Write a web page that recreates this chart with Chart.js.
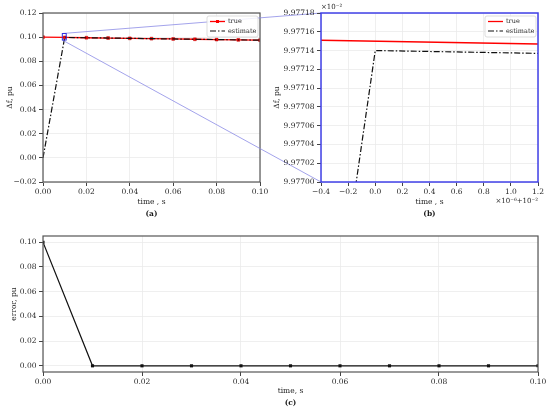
<!DOCTYPE html>
<html>
<head>
<meta charset="utf-8">
<script src="https://cdn.jsdelivr.net/npm/chart.js@4.4.1/dist/chart.umd.min.js"></script>
<style>
	html, body { margin: 0; padding: 0; background: #fff; }
	#figure { position: relative; width: 550px; height: 413px; }
	#figure canvas { position: absolute; left: 0; top: 0; }
</style>
</head>
<body>
<div id="figure">
	<canvas id="canvasA" width="550" height="413"></canvas>
	<canvas id="canvasB" width="550" height="413"></canvas>
	<canvas id="canvasC" width="550" height="413"></canvas>
</div>
<script>
// (a) frequency deviation, true vs estimate
var timeA = [0, 0.01, 0.02, 0.03, 0.04, 0.05, 0.06, 0.07, 0.08, 0.09, 0.1];
var trueA = [0.10000, 0.0997715, 0.09951, 0.09926, 0.09900, 0.09875, 0.09850, 0.09824, 0.09799, 0.09774, 0.09750];
var estimateA = [0.0, 0.0997714, 0.0995099, 0.0992599, 0.0989999, 0.0987499, 0.0984999, 0.0982399, 0.0979899, 0.0977399, 0.0974999];

// (b) zoom around t = 0.01 s (x in 1e-6 s offset, y in 1e-2 pu)
var timeTrueB = [-0.4, 1.2];
var trueB = [9.977151, 9.977147];
var timeEstB = [-0.4, 0.0, 1.2];
var estimateB = [9.976741, 9.977140, 9.977137];

// (c) error
var errorC = [0.1, 0.0000001, 0.0000001, 0.0000001, 0.0000001, 0.0000001, 0.0000001, 0.0000001, 0.0000001, 0.0000001, 0.0000001];

// tick labels
var ticksAX = [0, 0.02, 0.04, 0.06, 0.08, 0.1];
var ticksAY = [-0.02, 0, 0.02, 0.04, 0.06, 0.08, 0.1, 0.12];
var ticksBX = [-0.4, -0.2, 0, 0.2, 0.4, 0.6, 0.8, 1.0, 1.2];
var ticksBY = [9.977, 9.97702, 9.97704, 9.97706, 9.97708, 9.9771, 9.97712, 9.97714, 9.97716, 9.97718];
var ticksCX = [0, 0.02, 0.04, 0.06, 0.08, 0.1];
var ticksCY = [0, 0.02, 0.04, 0.06, 0.08, 0.1];

// region of (a) shown in (b), data units of (a)
var insetX = [0.0089, 0.0107];
var insetY = [0.0976, 0.1030];

var SERIF = '"DejaVu Serif", "Liberation Serif", serif';
var TEXT = '#262626';
Chart.defaults.font.family = SERIF;
Chart.defaults.font.size = 7.5;
Chart.defaults.color = TEXT;

function pairs(xs, ys) {
	return xs.map(function (x, i) { return {x: x, y: ys[i]}; });
}

function fmt(v, digits) {
	return v.toFixed(digits).replace('-', '\u2212');
}

function axis(o) {
	return {
		type: 'linear',
		min: o.min,
		max: o.max,
		afterBuildTicks: function (scale) {
			scale.ticks = o.ticks.map(function (v) { return {value: v}; });
		},
		afterFit: function (scale) {
			if (scale.isHorizontal()) {
				scale.height = o.size;
			} else {
				scale.width = o.size;
			}
			scale.paddingLeft = 0;
			scale.paddingRight = 0;
			scale.paddingTop = 0;
			scale.paddingBottom = 0;
		},
		border: {display: false},
		grid: {color: '#ebebeb', lineWidth: 0.8, tickColor: '#444', tickLength: 4, tickWidth: 1},
		ticks: {
			color: TEXT,
			padding: o.tickPad,
			maxRotation: 0,
			autoSkip: false,
			callback: function (v) { return fmt(v, o.digits); }
		},
		title: {display: true, text: o.title, color: TEXT, padding: o.titlePad}
	};
}

function drawLegend(chart) {
	var a = chart.chartArea, ctx = chart.ctx;
	var w = 51, h = 21, left = a.right - 2 - w, top = a.top + 3;
	ctx.save();
	ctx.fillStyle = 'rgba(255,255,255,0.85)';
	ctx.strokeStyle = '#d4d4d4';
	ctx.lineWidth = 0.8;
	ctx.beginPath();
	ctx.roundRect(left, top, w, h, 2);
	ctx.fill();
	ctx.stroke();
	chart.data.datasets.forEach(function (ds, i) {
		var y = top + 5.5 + i * 9.5;
		ctx.strokeStyle = ds.borderColor;
		ctx.lineWidth = ds.borderWidth;
		ctx.setLineDash(ds.borderDash || []);
		ctx.beginPath();
		ctx.moveTo(left + 3, y);
		ctx.lineTo(left + 18, y);
		ctx.stroke();
		ctx.setLineDash([]);
		if (ds.legendMarker) {
			ctx.fillStyle = ds.pointBackgroundColor;
			ctx.fillRect(left + 9, y - 1.5, 3, 3);
		}
		ctx.fillStyle = TEXT;
		ctx.font = '6.5px ' + SERIF;
		ctx.textBaseline = 'middle';
		ctx.textAlign = 'left';
		ctx.fillText(ds.label, left + 21, y);
	});
	ctx.restore();
}

function decor(cfg) {
	return {
		id: 'decor',
		afterDatasetsDraw: function (chart) {
			var a = chart.chartArea, ctx = chart.ctx;
			ctx.save();
			ctx.strokeStyle = cfg.frame;
			ctx.lineWidth = cfg.frameWidth;
			ctx.strokeRect(a.left, a.top, a.right - a.left, a.bottom - a.top);
			ctx.restore();
		},
		afterDraw: function (chart) {
			var a = chart.chartArea, ctx = chart.ctx;
			if (cfg.extra) {
				cfg.extra(chart);
			}
			if (cfg.legend) {
				drawLegend(chart);
			}
			ctx.save();
			ctx.fillStyle = '#1a1a1a';
			ctx.font = 'bold 7.5px ' + SERIF;
			ctx.textAlign = 'center';
			ctx.textBaseline = 'middle';
			ctx.fillText(cfg.caption, (a.left + a.right) / 2, a.bottom + cfg.captionGap);
			ctx.restore();
		}
	};
}

function baseOptions(padding, xAxis, yAxis) {
	return {
		responsive: false,
		animation: false,
		layout: {padding: padding},
		plugins: {legend: {display: false}, tooltip: {enabled: false}},
		scales: {x: xAxis, y: yAxis}
	};
}

// (b) first, so (a) can draw the connectors to it
var chartB = new Chart(document.getElementById('canvasB'), {
	type: 'line',
	data: {
		datasets: [
			{
				label: 'true',
				data: pairs(timeTrueB, trueB),
				borderColor: 'red',
				borderWidth: 1.3,
				pointRadius: 0,
				clip: 0,
				order: 1
			},
			{
				label: 'estimate',
				data: pairs(timeEstB, estimateB),
				borderColor: '#111',
				borderWidth: 1.2,
				borderDash: [6, 2, 1.5, 2],
				pointRadius: 0,
				clip: 0,
				order: 0
			}
		]
	},
	options: baseOptions(
		{left: 270, top: 13, right: 12, bottom: 206},
		axis({min: -0.4, max: 1.2, ticks: ticksBX, digits: 1, size: 25, tickPad: 1.5, title: 'time , s', titlePad: {top: 0, bottom: 0.5}}),
		axis({min: 9.977, max: 9.97718, ticks: ticksBY, digits: 5, size: 51, tickPad: 2.5, title: '\u0394f, pu', titlePad: {top: 2.5, bottom: 0}})
	),
	plugins: [decor({
		frame: '#4040e8',
		frameWidth: 1.5,
		legend: true,
		caption: '(b)',
		captionGap: 32.5,
		extra: function (chart) {
			var a = chart.chartArea, ctx = chart.ctx;
			ctx.save();
			ctx.fillStyle = TEXT;
			ctx.font = '7px ' + SERIF;
			ctx.textBaseline = 'middle';
			ctx.textAlign = 'left';
			ctx.fillText('\u00d710\u207b\u00b2', a.left, a.top - 6);
			ctx.textAlign = 'right';
			ctx.fillText('\u00d710\u207b\u2076+10\u207b\u00b2', a.right, a.bottom + 19);
			ctx.restore();
		}
	})]
});

var chartA = new Chart(document.getElementById('canvasA'), {
	type: 'line',
	data: {
		datasets: [
			{
				label: 'true',
				data: pairs(timeA, trueA),
				borderColor: 'red',
				borderWidth: 1.3,
				pointStyle: 'rect',
				pointRadius: 2,
				pointBackgroundColor: 'red',
				pointBorderColor: '#b00',
				pointBorderWidth: 0.5,
				legendMarker: true,
				order: 1
			},
			{
				label: 'estimate',
				data: pairs(timeA, estimateA),
				borderColor: '#111',
				borderWidth: 1.2,
				borderDash: [6, 2, 1.5, 2],
				pointRadius: 0,
				order: 0
			}
		]
	},
	options: baseOptions(
		{left: 0, top: 13, right: 290, bottom: 206},
		axis({min: 0, max: 0.1, ticks: ticksAX, digits: 2, size: 25, tickPad: 1.5, title: 'time , s', titlePad: {top: 0, bottom: 0.5}}),
		axis({min: -0.02, max: 0.12, ticks: ticksAY, digits: 2, size: 43, tickPad: 2.5, title: '\u0394f, pu', titlePad: {top: 5.5, bottom: 0}})
	),
	plugins: [decor({
		frame: '#555',
		frameWidth: 1.2,
		legend: true,
		caption: '(a)',
		captionGap: 32.5,
		extra: function (chart) {
			var ctx = chart.ctx, sx = chart.scales.x, sy = chart.scales.y, b = chartB.chartArea;
			var x0 = sx.getPixelForValue(insetX[0]), x1 = sx.getPixelForValue(insetX[1]);
			var y0 = sy.getPixelForValue(insetY[1]), y1 = sy.getPixelForValue(insetY[0]);
			ctx.save();
			ctx.strokeStyle = '#8c8ce6';
			ctx.lineWidth = 0.8;
			ctx.beginPath();
			ctx.moveTo(x0, y0);
			ctx.lineTo(b.left, b.top);
			ctx.moveTo(x0, y1);
			ctx.lineTo(b.left, b.bottom);
			ctx.stroke();
			ctx.strokeStyle = '#3030e0';
			ctx.lineWidth = 1;
			ctx.strokeRect(x0, y0, x1 - x0, y1 - y0);
			ctx.restore();
		}
	})]
});

var chartC = new Chart(document.getElementById('canvasC'), {
	type: 'line',
	data: {
		datasets: [
			{
				label: 'error',
				data: pairs(timeA, errorC),
				borderColor: '#111',
				borderWidth: 1.2,
				pointStyle: 'rect',
				pointRadius: 2.2,
				pointBackgroundColor: '#111',
				pointBorderColor: '#111',
				pointBorderWidth: 0
			}
		]
	},
	options: baseOptions(
		{left: 0, top: 236, right: 12, bottom: 17},
		axis({min: 0, max: 0.1, ticks: ticksCX, digits: 2, size: 24, tickPad: 1.5, title: 'time, s', titlePad: {top: 0, bottom: 0.5}}),
		axis({min: -0.005, max: 0.105, ticks: ticksCY, digits: 2, size: 43, tickPad: 2.5, title: 'error, pu', titlePad: {top: 9.5, bottom: 0}})
	),
	plugins: [decor({
		frame: '#555',
		frameWidth: 1.2,
		caption: '(c)',
		captionGap: 31
	})]
});
</script>
</body>
</html>
